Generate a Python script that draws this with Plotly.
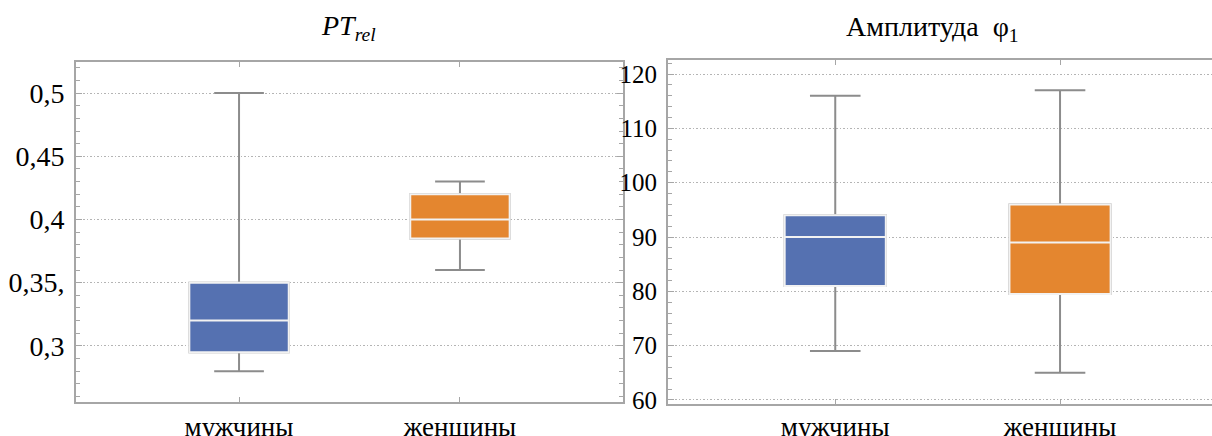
import plotly.graph_objects as go

categories = ["мужчины", "женщины"]
colors = ["#5571B1", "#E4862F"]

# PT_rel panel
pt_low = [0.28, 0.36]
pt_q1 = [0.295, 0.385]
pt_med = [0.32, 0.40]
pt_q3 = [0.35, 0.42]
pt_high = [0.50, 0.43]
pt_tickvals = [0.3, 0.35, 0.4, 0.45, 0.5]
pt_ticktext = ["0,3", "0,35,", "0,4", "0,45", "0,5"]

# Amplitude panel
amp_low = [69, 65]
amp_q1 = [81, 79.5]
amp_med = [90, 89]
amp_q3 = [94, 96]
amp_high = [116, 117]
amp_tickvals = [60, 70, 80, 90, 100, 110, 120]
amp_ticktext = ["60", "70", "80", "90", "100", "110", "120"]

W, H = 1212, 436
FONT = "Liberation Serif"
WHISKER = "#8c8c8c"
FRAME = "#a6a6a6"
GRID = "#b4b4b4"

fig = go.Figure()


def add_panel(xa, ya, low, q1, med, q3, high, width):
    for i in range(len(categories)):
        # whiskers + caps
        fig.add_trace(go.Box(
            x=[i], q1=[q1[i]], median=[med[i]], q3=[q3[i]],
            lowerfence=[low[i]], upperfence=[high[i]],
            width=width, whiskerwidth=0.5, boxpoints=False,
            fillcolor=colors[i], line=dict(color=WHISKER, width=2),
            xaxis=xa, yaxis=ya, showlegend=False, hoverinfo="skip"))
        # coloured box with light edges and median
        fig.add_trace(go.Box(
            x=[i], q1=[q1[i]], median=[med[i]], q3=[q3[i]],
            lowerfence=[q1[i]], upperfence=[q3[i]],
            width=width, whiskerwidth=0, boxpoints=False,
            fillcolor=colors[i], line=dict(color="#f2f2f2", width=2),
            xaxis=xa, yaxis=ya, showlegend=False, hoverinfo="skip"))


add_panel("x", "y", pt_low, pt_q1, pt_med, pt_q3, pt_high, 0.45)
add_panel("x2", "y2", amp_low, amp_q1, amp_med, amp_q3, amp_high, 0.45)


def xcommon(standoff):
    return dict(tickvals=[0, 1], ticktext=categories, ticks="inside", ticklen=5,
                tickcolor=FRAME, tickwidth=1, showline=True, linecolor=FRAME,
                linewidth=2, mirror="ticks", showgrid=False, zeroline=False,
                automargin=False,
                tickfont=dict(family=FONT, size=27, color="black"),
                ticklabelstandoff=standoff)


def ycommon(tv, tt, dminor, size, mirror):
    return dict(tickvals=tv, ticktext=tt, ticks="inside", ticklen=6,
                tickcolor=FRAME, tickwidth=1, showline=True, linecolor=FRAME,
                linewidth=2, mirror=mirror, showgrid=True, gridcolor=GRID,
                griddash="1.5px,2px", gridwidth=1, zeroline=False,
                automargin=False,
                minor=dict(dtick=dminor, ticks="inside", ticklen=4,
                           tickcolor=FRAME, showgrid=False),
                tickfont=dict(family=FONT, size=size, color="black"),
                ticklabelstandoff=4)


fig.update_layout(
    width=W, height=H,
    margin=dict(l=0, r=0, t=0, b=0, pad=0, autoexpand=False),
    paper_bgcolor="white", plot_bgcolor="white",
    boxmode="overlay", showlegend=False,
    xaxis=dict(domain=[76 / W, 623 / W], range=[-0.738, 1.738], **xcommon(0)),
    yaxis=dict(domain=[1 - 402 / H, 1 - 62 / H], range=[0.2556, 0.5246],
               anchor="x", **ycommon(pt_tickvals, pt_ticktext, 0.01, 28, "ticks")),
    xaxis2=dict(domain=[668 / W, 1.0], range=[-0.744, 1.676],
                anchor="y2", **xcommon(-2)),
    yaxis2=dict(domain=[1 - 404 / H, 1 - 60 / H], range=[59.26, 122.58],
                anchor="x2", **ycommon(amp_tickvals, amp_ticktext, 2, 25, False)),
    annotations=[
        dict(text="<i>PT<sub>rel</sub></i>", x=348 / W, y=1 - 27 / H,
             xref="paper", yref="paper", xanchor="center", yanchor="middle",
             showarrow=False, font=dict(family=FONT, size=28, color="black")),
        dict(text="Амплитуда  φ<sub>1</sub>", x=932 / W, y=1 - 28 / H,
             xref="paper", yref="paper", xanchor="center", yanchor="middle",
             showarrow=False, font=dict(family=FONT, size=28, color="black")),
    ],
)

fig.write_html("out.html", config={"displayModeBar": False},
               post_script="document.body.style.margin='0';")
